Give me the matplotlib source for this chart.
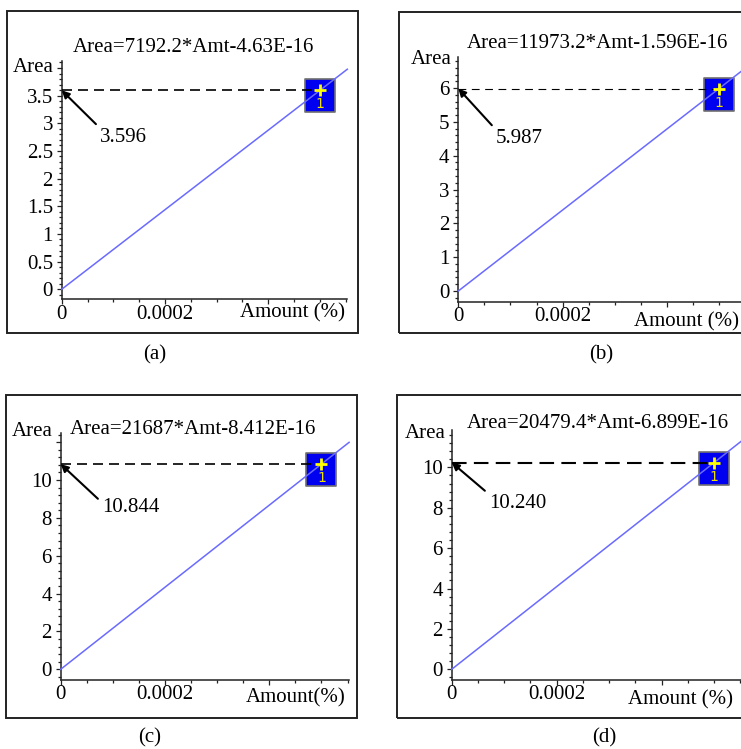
import numpy as np
import matplotlib
matplotlib.use('Agg')
import matplotlib.pyplot as plt
from matplotlib.path import Path
from matplotlib.patches import Rectangle
from matplotlib.ticker import MultipleLocator, FixedLocator, FixedFormatter, FuncFormatter

plt.rcParams['font.family'] = ['Liberation Serif', 'DejaVu Serif']

# ---- data ----
captions = ['(a)', '(b)', '(c)', '(d)']
slopes = [7192.2, 11973.2, 21687.0, 20479.4]
intercepts = [-4.63e-16, -1.596e-16, -8.412e-16, -6.899e-16]
equations = ['Area=7192.2*Amt-4.63E-16', 'Area=11973.2*Amt-1.596E-16',
             'Area=21687*Amt-8.412E-16', 'Area=20479.4*Amt-6.899E-16']
sample_amt = 0.0005
sample_area = [3.596, 5.987, 10.844, 10.240]
area_labels = ['3.596', '5.987', '10.844', '10.240']
xlabels = ['Amount (%)', 'Amount (%)', 'Amount(%)', 'Amount (%)']
x_ticks = [0, 0.0002, 0.0004]
x_ticklabels = ['0', '0.0002', '']
y_step = [0.5, 1, 2, 2]
y_label_max = [3.5, 6, 10, 10]
y_top = [4.126, 6.91, 12.47, 11.85]
y_bottom = [-0.181, -0.316, -0.565, -0.53]
x_max = 0.000553

# ---- layout in pixels (from top-left of the 741x749 image) ----
W, H = 741, 749
ax_box = [(61.7, 61, 299.3, 103.3), (458.3, 57.3, 301.7, 104.3),
          (60.7, 433.3, 680, 104.3), (451.7, 430, 680, 105)]
frames = [(7, 11, 358, 333), (399, 12, 746, 333), (6, 395, 357, 718), (397, 395, 746, 718)]
eq_pos = [(193, 47), (597, 43), (193, 430), (598, 423)]
area_pos = [(54, 67), (452, 60), (53, 432), (446, 433)]
amt_pos = [(345, 313), (739, 322), (346, 698), (733, 700)]
cap_pos = [(155, 355), (601, 355), (150, 738), (604, 738)]
arrow_off = [(38, -47), (37, -50), (41, -43), (37, -41)]
arrow_rel = [(0, 1), (0, 1), (0, 0.75), (0, 1)]
dash_pat = [(6, 3.6), (7, 5), (6, 3.6), (7, 3.5)]
dash_lw = [1.2, 0.8, 1.2, 1.5]


def fpos(x, y):
    return x / W, 1 - y / H


box_marker = Path([(-15, -22), (15, -22), (15, 11), (-15, 11), (-15, -22)],
                  [Path.MOVETO, Path.LINETO, Path.LINETO, Path.LINETO, Path.CLOSEPOLY])

fig = plt.figure(figsize=(W / 100, H / 100), dpi=100)

for i in range(4):
    # panel frame
    fl, ft, fr, fb = frames[i]
    fig.add_artist(Rectangle(fpos(fl, fb), (fr - fl) / W, (fb - ft) / H,
                             transform=fig.transFigure, fill=False,
                             edgecolor='#222222', lw=1.4))

    l, t, b, ppx = ax_box[i]
    width = x_max / 0.0002 * ppx
    ax = fig.add_axes([l / W, 1 - b / H, width / W, (b - t) / H])
    ax.set_facecolor('none')
    ax.set_xlim(0, x_max)
    ax.set_ylim(y_bottom[i], y_top[i])

    amt = np.array([0, x_max])
    ax.plot(amt, slopes[i] * amt + intercepts[i], color='#6a6aff', lw=1.1,
            zorder=3, clip_on=False)

    ax.plot([0, sample_amt], [sample_area[i], sample_area[i]], color='k',
            ls=(0, dash_pat[i]), lw=dash_lw[i], zorder=3)

    ax.plot([sample_amt], [sample_area[i]], marker=box_marker, ms=44 * 0.72,
            mfc='#0000f0', mec='#707070', mew=1.2, ls='none', zorder=2, clip_on=False)
    ax.plot([sample_amt], [sample_area[i]], marker='+', ms=8, mew=2,
            color='#ffff00', ls='none', zorder=5, clip_on=False)
    ax.annotate('1', (sample_amt, sample_area[i]), xytext=(0, -14),
                textcoords='offset pixels', ha='center', va='center',
                color='#f0e000', fontsize=10, family='DejaVu Sans', zorder=6)

    ax.annotate(area_labels[i], xy=(0, sample_area[i]), xytext=arrow_off[i],
                textcoords='offset pixels', ha='left', va='center', fontsize=15,
                annotation_clip=False, zorder=6,
                arrowprops=dict(arrowstyle='-|>', color='k', lw=1.5,
                                shrinkA=1, shrinkB=0, mutation_scale=11,
                                relpos=arrow_rel[i]))

    # axes styling
    for s in ['top', 'right']:
        ax.spines[s].set_visible(False)
    for s in ['left', 'bottom']:
        ax.spines[s].set_linewidth(1.1)
        ax.spines[s].set_color('#222222')
    ax.xaxis.set_major_locator(FixedLocator(x_ticks))
    ax.xaxis.set_major_formatter(FixedFormatter(x_ticklabels))
    ax.xaxis.set_minor_locator(MultipleLocator(0.00005))
    ax.yaxis.set_major_locator(MultipleLocator(y_step[i]))
    ax.yaxis.set_minor_locator(MultipleLocator(y_step[i] / 5))
    lm = y_label_max[i]
    ax.yaxis.set_major_formatter(FuncFormatter(
        lambda v, p, lm=lm: '' if v > lm + 1e-9 else '%g' % round(v, 6)))
    ax.tick_params(which='both', direction='out', width=0.9, color='#222222')
    ax.tick_params(which='major', length=3.8, labelsize=15)
    ax.tick_params(which='minor', length=2.0)
    ax.tick_params(axis='y', which='major', pad=2.5)
    ax.tick_params(axis='x', which='major', pad=0)

    # texts
    x, y = fpos(*eq_pos[i])
    fig.text(x, y, equations[i], ha='center', va='center', fontsize=15)
    x, y = fpos(*area_pos[i])
    fig.text(x, y, 'Area', ha='right', va='center', fontsize=15)
    x, y = fpos(*amt_pos[i])
    fig.text(x, y, xlabels[i], ha='right', va='center', fontsize=15)
    x, y = fpos(*cap_pos[i])
    fig.text(x, y, captions[i], ha='center', va='center', fontsize=15)

fig.savefig('out.png', dpi=100)
